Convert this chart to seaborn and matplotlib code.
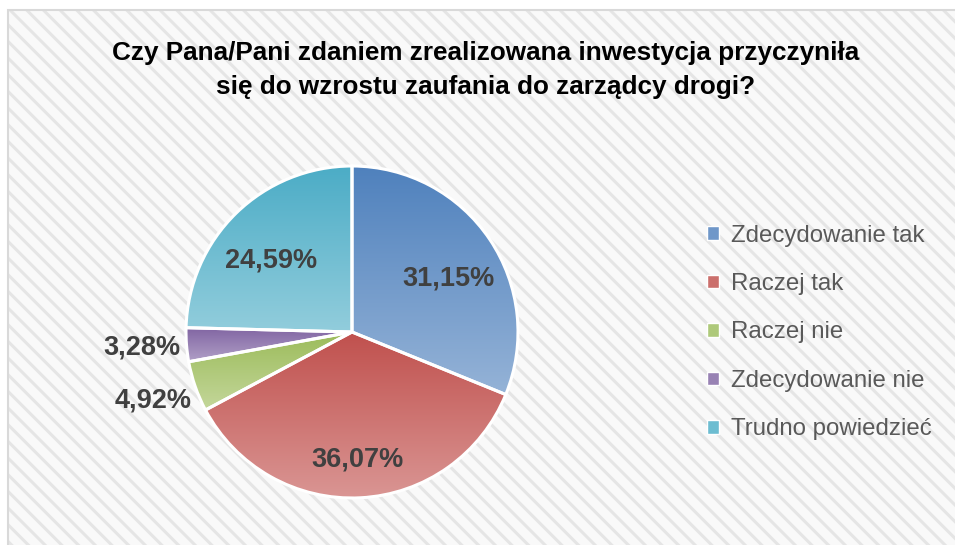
import numpy as np
import matplotlib
matplotlib.use("Agg")
import matplotlib.pyplot as plt
from matplotlib.patches import Rectangle, Patch
import seaborn as sns

# data
categories = ["Zdecydowanie tak", "Raczej tak", "Raczej nie",
              "Zdecydowanie nie", "Trudno powiedzieć"]
shares = [31.15, 36.07, 4.92, 3.28, 24.59]
pct_labels = ["31,15%", "36,07%", "4,92%", "3,28%", "24,59%"]

# gradient colours (top, bottom) per slice
top_colors = ["#4F81BD", "#C0504D", "#9BBB59", "#8064A2", "#4BACC6"]
bottom_colors = ["#95B3D7", "#DA9694", "#C4D79B", "#B1A0C7", "#92CDDC"]
mid_colors = ["#6F97C9", "#CB6F6C", "#AEC97A", "#9882B4", "#6DBDD1"]

sns.set_theme(style="white")
plt.rcParams["font.family"] = ["Liberation Sans", "DejaVu Sans"]
plt.rcParams["hatch.linewidth"] = 2.2

W, H = 955, 545
fig = plt.figure(figsize=(W / 100, H / 100), dpi=100)
fig.patch.set_facecolor("white")

# hatched chart background + frame
bg = Rectangle((8 / W, -0.1), 1.2, (H - 10) / H + 0.1, transform=fig.transFigure,
               facecolor="#f9f9f9", edgecolor="#e5e5e5", hatch="\\\\", linewidth=0,
               zorder=-2)
fig.patches.append(bg)
frame = Rectangle((8 / W, -0.1), 1.2, (H - 10) / H + 0.1, transform=fig.transFigure,
                  facecolor="none", edgecolor="#d9d9d9", linewidth=1.5, zorder=-1)
fig.patches.append(frame)

# pie axes: centre (352, 332) px, radius 166 px
r_px = 166
cx, cy = 352, H - 332
half = 1.25 * r_px
ax = fig.add_axes([(cx - half) / W, (cy - half) / H, 2 * half / W, 2 * half / H])
ax.patch.set_visible(False)

wedges, _ = ax.pie(shares, startangle=90, counterclock=False,
                   wedgeprops=dict(facecolor="none", edgecolor="white", linewidth=2.2))

grad = np.linspace(0, 1, 256).reshape(-1, 1)
for w, c1, c2 in zip(wedges, top_colors, bottom_colors):
    v = w.get_path().vertices
    cmap = sns.blend_palette([c1, c2], as_cmap=True)
    im = ax.imshow(grad, cmap=cmap, origin="upper", aspect="auto",
                   extent=(v[:, 0].min(), v[:, 0].max(), v[:, 1].min(), v[:, 1].max()),
                   zorder=0.5)
    im.set_clip_path(w)

# percentage labels
for w, lab, s in zip(wedges, pct_labels, shares):
    ang = np.deg2rad((w.theta1 + w.theta2) / 2)
    if s < 6:
        x, y = 1.27 * np.cos(ang), 1.25 * np.sin(ang)
    else:
        x, y = 0.7 * np.cos(ang), 0.7 * np.sin(ang) - 0.07
    ax.text(x, y, lab, ha="center", va="center",
            fontsize=19.5, fontweight="bold", color="#404040")

ax.set_xlim(-1.25, 1.25)
ax.set_ylim(-1.25, 1.25)
ax.set_aspect("equal")
ax.axis("off")

# title
fig.text(486 / W, 1 - 70 / H,
         "Czy Pana/Pani zdaniem zrealizowana inwestycja przyczyniła\nsię do wzrostu zaufania do zarządcy drogi?",
         ha="center", va="center", fontsize=18.8, fontweight="bold",
         color="black", linespacing=1.5)

# legend
handles = [Patch(facecolor=c, edgecolor="white", linewidth=1) for c in mid_colors]
leg = fig.legend(handles, categories, loc="upper left",
                 bbox_to_anchor=(685 / W, 1 - 203 / H), frameon=False,
                 fontsize=17.3, handlelength=0.5, handleheight=0.5,
                 handletextpad=0.5, labelspacing=1.1)
for t in leg.get_texts():
    t.set_color("#595959")

fig.savefig("out.png", dpi=100)
